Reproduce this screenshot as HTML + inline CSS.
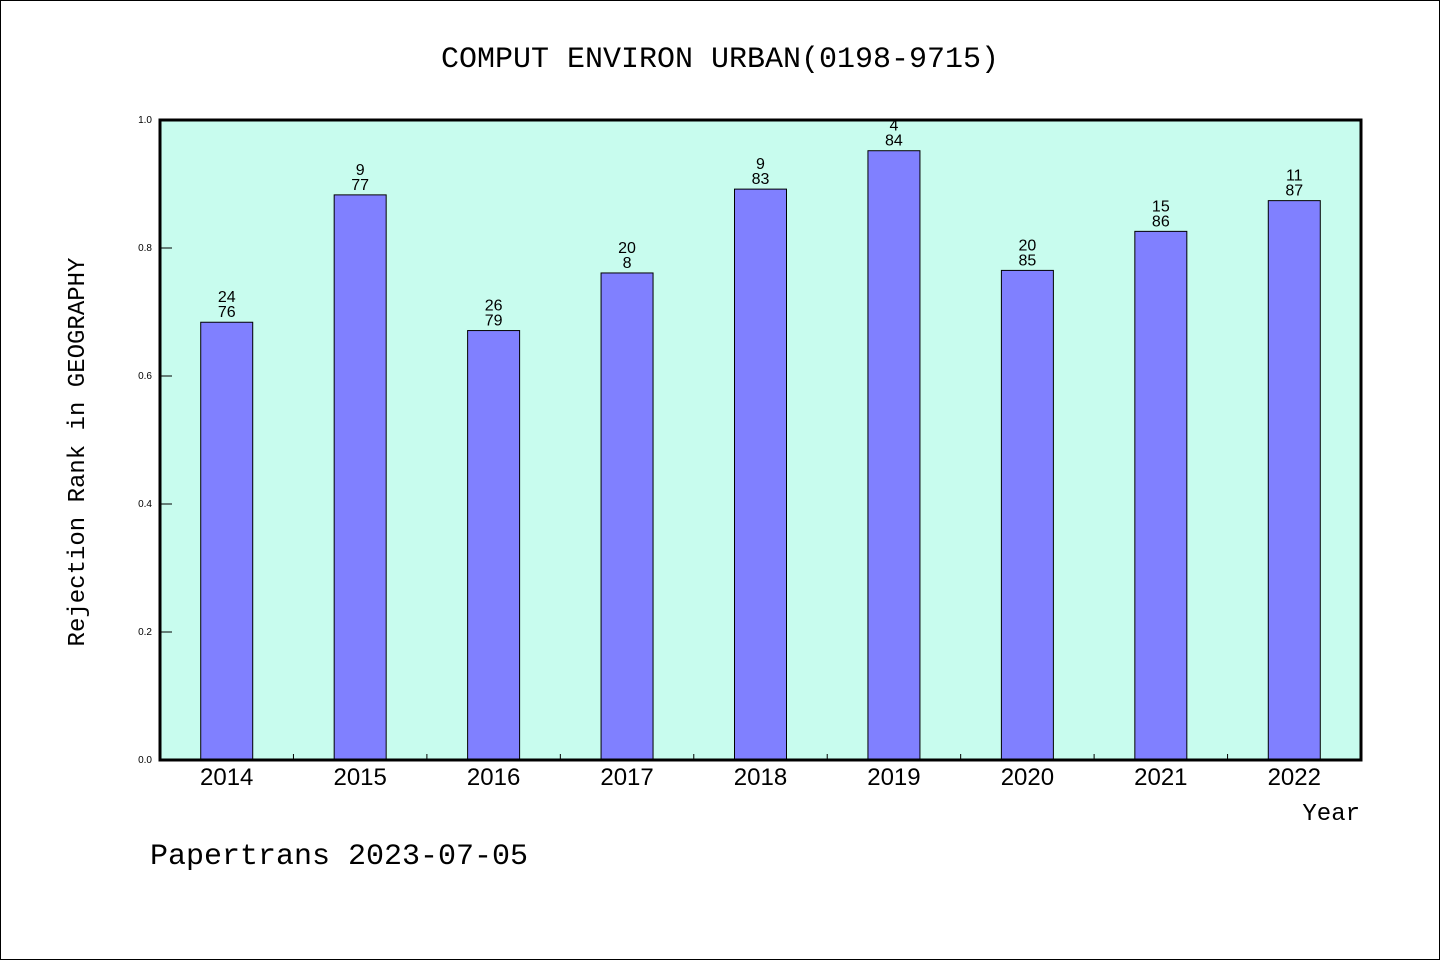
<!DOCTYPE html>
<html><head><meta charset="utf-8"><style>
html,body{margin:0;padding:0;background:#fff}
svg{display:block;font-family:"Liberation Sans",sans-serif}
</style></head><body>
<svg width="1440" height="960" viewBox="0 0 1440 960">
<rect x="0.5" y="0.5" width="1439" height="959" fill="#fff" stroke="#000"/>
<text x="720" y="67" text-anchor="middle" font-size="30" font-family="Liberation Mono, monospace">COMPUT ENVIRON URBAN(0198-9715)</text>
<rect x="160" y="120" width="1201" height="640" fill="#c8fcee"/>
<g id="bars"></g>
<g id="yaxis"></g>
<g id="xaxis"></g>
<rect x="160" y="120" width="1201" height="640" fill="none" stroke="#000" stroke-width="3"/>
<text transform="translate(84,452) rotate(-90)" text-anchor="middle" font-size="24" font-family="Liberation Mono, monospace">Rejection Rank in GEOGRAPHY</text>
<text x="1360" y="820" text-anchor="end" font-size="24" font-family="Liberation Mono, monospace">Year</text>
<text x="150" y="864" font-size="30" font-family="Liberation Mono, monospace">Papertrans 2023-07-05</text>
</svg>
<script>
const categories=["2014","2015","2016","2017","2018","2019","2020","2021","2022"];
const values=[0.684,0.883,0.671,0.761,0.892,0.952,0.765,0.826,0.874];
const ranks=["24","9","26","20","9","4","20","15","11"];
const totals=["76","77","79","8","83","84","85","86","87"];
const yTicks=[0,0.2,0.4,0.6,0.8,1.0];
const NS="http://www.w3.org/2000/svg";
const X0=160,X1=1361,Y0=760,Y1=120;
const slot=(X1-X0)/categories.length;
const xc=i=>X0+slot*(i+0.5);
const y=v=>Y0-(v-0)/(1-0)*(Y0-Y1);
function mk(t,a){const e=document.createElementNS(NS,t);for(const k in a)e.setAttribute(k,a[k]);return e;}
const bars=document.getElementById('bars');
categories.forEach((c,i)=>{
  const r=mk('rect',{x:xc(i)-26,y:y(values[i]),width:52,height:Y0-y(values[i]),fill:'#8080ff',stroke:'#000','stroke-width':1});
  
  
  bars.appendChild(r);
  const t1=mk('text',{x:xc(i),y:y(values[i])-20,'text-anchor':'middle','font-size':16});
  t1.textContent=ranks[i];
  
  
  bars.appendChild(t1);
  const t2=mk('text',{x:xc(i),y:y(values[i])-5,'text-anchor':'middle','font-size':16});
  t2.textContent=totals[i];
  
  
  bars.appendChild(t2);
});
const ya=document.getElementById('yaxis');
yTicks.forEach(v=>{
  const l=mk('line',{x1:X0,x2:X0+12,y1:y(v),y2:y(v),stroke:'#000','stroke-width':1});
  
  
  ya.appendChild(l);
  const t=mk('text',{x:152,y:y(v)+3,'text-anchor':'end','font-size':10});
  t.textContent=v.toFixed(1);
  
  
  ya.appendChild(t);
});
const xa=document.getElementById('xaxis');
categories.forEach((c,i)=>{
  if(i>0){
    const l=mk('line',{x1:X0+slot*i,x2:X0+slot*i,y1:Y0,y2:Y0-6,stroke:'#000','stroke-width':1});
    
    
    xa.appendChild(l);
  }
  const t=mk('text',{x:xc(i),y:785,'text-anchor':'middle','font-size':24});
  t.textContent=c;
  
  
  xa.appendChild(t);
});
</script>
</body></html>
